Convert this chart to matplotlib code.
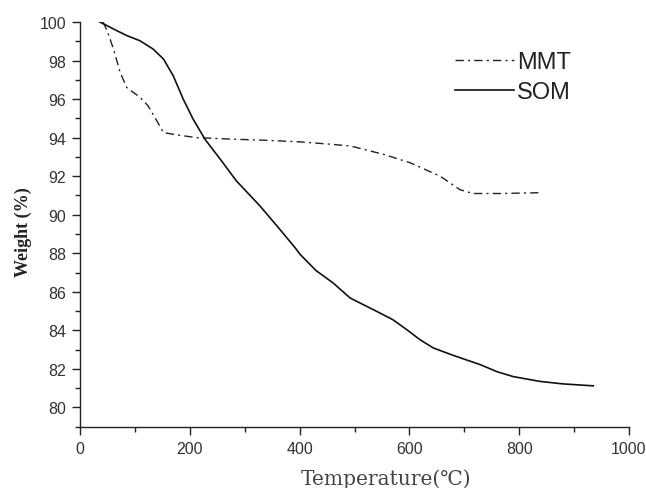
import matplotlib
matplotlib.use("Agg")
import matplotlib.pyplot as plt
from matplotlib.ticker import MultipleLocator

# SOM curve
som_T = [36, 50, 67, 85, 109, 133, 152, 170, 188, 206, 228, 255, 285, 328, 364, 392,
         401, 430, 461, 492, 540, 570, 595, 620, 644, 680, 729, 760, 789, 838, 880, 935]
som_W = [100.0, 99.8, 99.55, 99.3, 99.03, 98.6, 98.08, 97.2, 96.0, 94.96, 93.9, 92.9, 91.75,
         90.45, 89.24, 88.28, 87.94, 87.1, 86.46, 85.68, 84.99, 84.55, 84.04, 83.5, 83.08,
         82.7, 82.22, 81.85, 81.6, 81.35, 81.22, 81.12]

# MMT curve
mmt_T = [42, 50, 61, 73, 85, 109, 124, 140, 152, 182, 212, 279, 340, 401, 455, 492, 552,
         601, 656, 692, 716, 765, 835]
mmt_W = [100.0, 99.5, 98.6, 97.4, 96.6, 96.1, 95.65, 94.87, 94.26, 94.12, 94.0, 93.92,
         93.86, 93.78, 93.66, 93.57, 93.14, 92.7, 92.0, 91.3, 91.1, 91.1, 91.14]

x_ticks = [0, 200, 400, 600, 800, 1000]
y_ticks = [80, 82, 84, 86, 88, 90, 92, 94, 96, 98, 100]

fig = plt.figure(figsize=(6.46, 4.89), dpi=100)
ax = fig.add_axes([80/646, 1 - 427.7/489, (629-80)/646, (427.7-23)/489])

ax.plot(mmt_T, mmt_W, color="#222222", lw=1.0, linestyle=(0, (6, 3, 1.5, 3)), label="MMT")
ax.plot(som_T, som_W, color="#111111", lw=1.2, linestyle="-", label="SOM")

ax.set_xlim(0, 1000)
ax.set_ylim(79, 100)
ax.set_xticks(x_ticks)
ax.set_yticks(y_ticks)
ax.xaxis.set_minor_locator(MultipleLocator(100))
ax.yaxis.set_minor_locator(MultipleLocator(1))
ax.tick_params(which="major", direction="out", length=6, width=1, labelsize=11.5,
               colors="#222222", labelcolor="#333333", pad=4)
ax.tick_params(which="minor", direction="out", length=3.5, width=1, colors="#222222")
for s in ["top", "right"]:
    ax.spines[s].set_visible(False)
for s in ["left", "bottom"]:
    ax.spines[s].set_linewidth(1.0)
    ax.spines[s].set_color("#222222")
for lab in ax.get_xticklabels() + ax.get_yticklabels():
    lab.set_family("Liberation Sans")

ax.set_ylabel("Weight (%)", family="Liberation Serif", fontweight="bold", fontsize=13,
              color="#222222")
ax.yaxis.set_label_coords(-0.088, 0.484)
fig.text(386/646, 1 - 485/489, "Temperature(\u2103)", family=["DejaVu Serif", "Noto Sans CJK SC"],
         fontsize=14.5, color="#444444", ha="center", va="baseline")

leg = ax.legend(loc="upper left", bbox_to_anchor=(443/646, 1 - 40/489),
                bbox_transform=fig.transFigure, frameon=False,
                prop={"family": "Liberation Sans", "size": 17},
                handlelength=2.5, handletextpad=0.15, labelspacing=0.35, borderpad=0)
for t in leg.get_texts():
    t.set_color("#222222")

fig.savefig("out.png", dpi=100)
